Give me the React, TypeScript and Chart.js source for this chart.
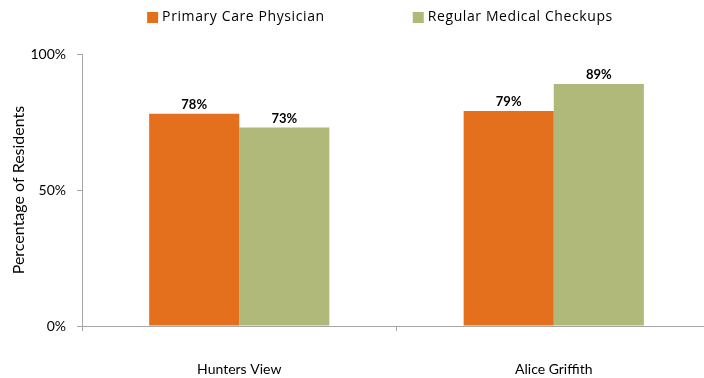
import React, { useEffect, useRef } from "react";
import { Chart, registerables } from "chart.js";

Chart.register(...registerables);

const categories = ["Hunters View", "Alice Griffith"];
const seriesNames = ["Primary Care Physician", "Regular Medical Checkups"];
const primaryCare = [0.78, 0.79];
const regularCheckups = [0.73, 0.89];
const yTicks = [0, 0.5, 1];
const colors = ["#E4701E", "#B0B87A"];

const FONT = "Lato, 'Open Sans', sans-serif";
const LEGEND_FONT = "'Open Sans', Lato, sans-serif";

const legendPlugin = {
  id: "customLegend",
  afterDraw(chart: any) {
    const ctx = chart.ctx;
    ctx.save();
    ctx.font = `14px ${LEGEND_FONT}`;
    try {
      (ctx as any).letterSpacing = "0.6px";
    } catch (e) {}
    ctx.textBaseline = "middle";
    ctx.textAlign = "left";
    const box = 11;
    const gapText = 4;
    const itemGap = 88;
    const widths = chart.data.datasets.map(
      (d: any) => box + gapText + ctx.measureText(d.label).width
    );
    const total = widths.reduce((a: number, b: number) => a + b, 0) + itemGap * (widths.length - 1);
    let x = 380 - total / 2;
    const y = 17.5;
    chart.data.datasets.forEach((d: any, i: number) => {
      ctx.fillStyle = d.backgroundColor;
      ctx.fillRect(x, y - box / 2, box, box);
      ctx.fillStyle = "#000";
      ctx.fillText(d.label, x + box + gapText, y);
      x += widths[i] + itemGap;
    });
    ctx.restore();
  },
};

const dataLabelPlugin = {
  id: "barLabels",
  afterDatasetsDraw(chart: any) {
    const ctx = chart.ctx;
    ctx.save();
    ctx.font = `bold 13px ${FONT}`;
    ctx.fillStyle = "#000";
    ctx.textAlign = "center";
    ctx.textBaseline = "middle";
    chart.data.datasets.forEach((d: any, di: number) => {
      const meta = chart.getDatasetMeta(di);
      meta.data.forEach((bar: any, i: number) => {
        const v = d.data[i];
        ctx.fillText(Math.round(v * 100) + "%", bar.x, bar.y - 9);
      });
    });
    ctx.restore();
  },
};

export default function App() {
  const ref = useRef<HTMLCanvasElement>(null);
  useEffect(() => {
    if (!ref.current) return;
    const chart = new Chart(ref.current, {
      type: "bar",
      data: {
        labels: categories,
        datasets: [
          { label: seriesNames[0], data: primaryCare, backgroundColor: colors[0] },
          { label: seriesNames[1], data: regularCheckups, backgroundColor: colors[1] },
        ],
      },
      plugins: [legendPlugin, dataLabelPlugin],
      options: {
        responsive: false,
        animation: false,
        layout: { padding: { top: 54, right: 5, left: 0, bottom: 0 } },
        datasets: {
          bar: { categoryPercentage: 0.573, barPercentage: 1 },
        },
        plugins: {
          legend: { display: false },
          tooltip: { enabled: false },
        },
        scales: {
          x: {
            grid: {
              display: true,
              drawOnChartArea: false,
              offset: true,
              tickLength: 5,
              color: "#A6A6A6",
            },
            border: { color: "#A6A6A6" },
            ticks: {
              color: "#000",
              font: { family: FONT, size: 14 },
              padding: 30,
            },
            afterFit(scale: any) {
              scale.height = 378 - 326;
            },
          },
          y: {
            min: 0,
            max: 1,
            afterBuildTicks(scale: any) {
              scale.ticks = yTicks.map((v) => ({ value: v }));
            },
            grid: {
              display: true,
              drawOnChartArea: false,
              tickLength: 5,
              color: "#A6A6A6",
            },
            border: { color: "#A6A6A6" },
            ticks: {
              color: "#000",
              font: { family: FONT, size: 14 },
              padding: 11,
              callback: (v: any) => Math.round(Number(v) * 100) + "%",
            },
            title: {
              display: true,
              text: "Percentage of Residents",
              color: "#000",
              font: { family: FONT, size: 16 },
              padding: { top: 9, bottom: 0 },
            },
            afterFit(scale: any) {
              scale.width = 82;
            },
          },
        },
      },
    });
    return () => chart.destroy();
  }, []);
  return (
    <div
      style={{
        position: "fixed",
        left: 0,
        top: 0,
        width: 704,
        height: 378,
        overflow: "hidden",
        background: "#fff",
      }}
    >
      <canvas ref={ref} width={716} height={378} style={{ display: "block" }} />
    </div>
  );
}
